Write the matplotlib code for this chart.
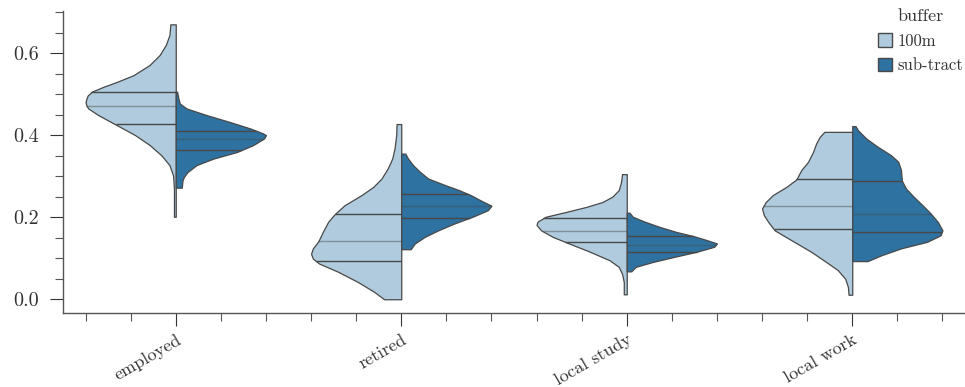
import numpy as np
import matplotlib
matplotlib.use("Agg")
import matplotlib.pyplot as plt
from matplotlib.patches import Patch
from matplotlib.ticker import MultipleLocator

plt.rcParams['font.family'] = ['cmr10', 'DejaVu Serif']
plt.rcParams['mathtext.fontset'] = 'cm'
plt.rcParams['axes.formatter.use_mathtext'] = True

categories = ["employed", "retired", "local study", "local work"]
buffers = ["100m", "sub-tract"]
colors = ["#afcbdd", "#2e72a1"]

# violin outlines: y values (top -> bottom) and relative half width
y_100m = [
    [0.670, 0.644, 0.620, 0.595, 0.571, 0.546, 0.530, 0.518, 0.506, 0.497, 0.489, 0.480,
     0.472, 0.465, 0.449, 0.424, 0.400, 0.376, 0.351, 0.327, 0.302, 0.270, 0.237, 0.201],
    [0.427, 0.400, 0.368, 0.343, 0.319, 0.294, 0.274, 0.254, 0.229, 0.207, 0.189,
     0.164, 0.141, 0.124, 0.111, 0.099, 0.087, 0.067, 0.042, 0.018, 0.000],
    [0.305, 0.286, 0.266, 0.250, 0.237, 0.225, 0.213, 0.201, 0.189, 0.181, 0.168,
     0.152, 0.136, 0.116, 0.095, 0.079, 0.062, 0.042, 0.012],
    [0.408, 0.396, 0.380, 0.359, 0.335, 0.315, 0.292, 0.274, 0.254, 0.237, 0.221,
     0.205, 0.188, 0.168, 0.144, 0.115, 0.091, 0.071, 0.050, 0.030, 0.011],
]
d_100m = [
    [0.06, 0.07, 0.11, 0.18, 0.29, 0.47, 0.65, 0.80, 0.93, 0.975, 0.99, 1.00,
     0.99, 0.97, 0.86, 0.65, 0.45, 0.29, 0.16, 0.07, 0.03, 0.02, 0.02, 0.02],
    [0.052, 0.056, 0.074, 0.10, 0.15, 0.22, 0.31, 0.44, 0.63, 0.74, 0.81,
     0.87, 0.92, 0.98, 1.00, 0.98, 0.91, 0.70, 0.48, 0.30, 0.19],
    [0.052, 0.063, 0.089, 0.16, 0.27, 0.45, 0.67, 0.90, 0.99, 1.00, 0.95,
     0.82, 0.64, 0.41, 0.19, 0.089, 0.052, 0.033, 0.033],
    [0.31, 0.36, 0.40, 0.435, 0.49, 0.565, 0.62, 0.73, 0.88, 0.96, 1.00,
     0.98, 0.93, 0.86, 0.675, 0.45, 0.29, 0.16, 0.078, 0.048, 0.041],
]
y_sub = [
    [0.506, 0.489, 0.477, 0.465, 0.449, 0.432, 0.416, 0.404, 0.400, 0.392, 0.376,
     0.359, 0.343, 0.327, 0.310, 0.298, 0.290, 0.272],
    [0.355, 0.343, 0.327, 0.310, 0.294, 0.278, 0.266, 0.254, 0.241, 0.228, 0.217,
     0.201, 0.184, 0.168, 0.152, 0.136, 0.122],
    [0.211, 0.201, 0.189, 0.176, 0.164, 0.154, 0.144, 0.136, 0.128, 0.116, 0.103,
     0.091, 0.079, 0.068],
    [0.422, 0.412, 0.392, 0.372, 0.351, 0.335, 0.315, 0.289, 0.270, 0.250, 0.229,
     0.209, 0.188, 0.168, 0.156, 0.140, 0.124, 0.107, 0.093],
]
d_sub = [
    [0.015, 0.03, 0.045, 0.12, 0.34, 0.60, 0.83, 0.97, 1.00, 0.98, 0.86,
     0.68, 0.42, 0.23, 0.13, 0.09, 0.075, 0.067],
    [0.045, 0.075, 0.13, 0.21, 0.30, 0.49, 0.64, 0.77, 0.88, 1.00, 0.96,
     0.79, 0.58, 0.41, 0.26, 0.15, 0.105],
    [0.03, 0.067, 0.20, 0.37, 0.55, 0.74, 0.89, 1.00, 0.97, 0.78, 0.52,
     0.29, 0.10, 0.05],
    [0.036, 0.063, 0.154, 0.28, 0.43, 0.51, 0.54, 0.55, 0.595, 0.68, 0.78,
     0.87, 0.95, 1.00, 0.98, 0.83, 0.54, 0.32, 0.17],
]

# quartiles (25, 50, 75)
q_100m = [[0.426, 0.472, 0.504], [0.093, 0.141, 0.207], [0.140, 0.167, 0.197], [0.171, 0.227, 0.292]]
q_sub = [[0.363, 0.390, 0.411], [0.199, 0.227, 0.257], [0.116, 0.133, 0.154], [0.165, 0.208, 0.289]]

half = 0.4
edge = "#484848"

fig = plt.figure(figsize=(9.65, 3.87), dpi=100)
ax = fig.add_axes([63 / 965, 0.1912, 1 - 63 / 965, 0.9726 - 0.1912])

for i in range(len(categories)):
    for side, (ys, ds, qs, col) in enumerate([(y_100m[i], d_100m[i], q_100m[i], colors[0]),
                                              (y_sub[i], d_sub[i], q_sub[i], colors[1])]):
        ys = np.array(ys)
        ds = np.array(ds) * half
        sign = -1 if side == 0 else 1
        ax.fill_betweenx(ys, i, i + sign * ds, facecolor=col, edgecolor=edge, linewidth=0.9,
                         joinstyle="round", zorder=2)
        for k, q in enumerate(qs):
            w = np.interp(q, ys[::-1], ds[::-1])
            ax.plot([i, i + sign * w], [q, q], color=edge, linewidth=1.0,
                    alpha=0.45 if k == 1 else 1.0, zorder=3, solid_capstyle="butt")

ax.set_xlim(-0.5, 3.5)
ax.set_ylim(-0.0335, 0.7035)
ax.spines['top'].set_visible(False)
ax.spines['right'].set_visible(False)
for s in ['left', 'bottom']:
    ax.spines[s].set_color("#555555")
    ax.spines[s].set_linewidth(1.0)

ax.set_xticks(range(len(categories)))
ax.set_xticklabels(categories, rotation=30, ha='right', va='top', rotation_mode='anchor', fontsize=13)
ax.xaxis.set_minor_locator(MultipleLocator(0.2))
ax.yaxis.set_minor_locator(MultipleLocator(0.05))
ax.set_yticks([0.0, 0.2, 0.4, 0.6])
ax.set_yticklabels(["0.0", "0.2", "0.4", "0.6"], fontsize=14.5)
ax.tick_params(which='major', length=9.5, width=0.8, color="#333333", labelcolor="#333333")
ax.tick_params(axis='y', which='major', pad=8)
ax.tick_params(axis='x', which='major', pad=4)
ax.tick_params(which='minor', length=6, width=0.8, color="#555555")

handles = [Patch(facecolor=colors[0], edgecolor=edge, label=buffers[0]),
           Patch(facecolor=colors[1], edgecolor=edge, label=buffers[1])]
leg = fig.legend(handles=handles, title="buffer", loc='upper right', bbox_to_anchor=(1.003, 0.99),
                 frameon=False, fontsize=12, title_fontsize=13, handlelength=0.85, handleheight=0.85,
                 handletextpad=0.3, labelspacing=0.55, borderpad=0.2, borderaxespad=0.1)
for t in leg.get_texts():
    t.set_color("#333333")
leg.get_title().set_color("#333333")

fig.savefig("out.png", dpi=100)
